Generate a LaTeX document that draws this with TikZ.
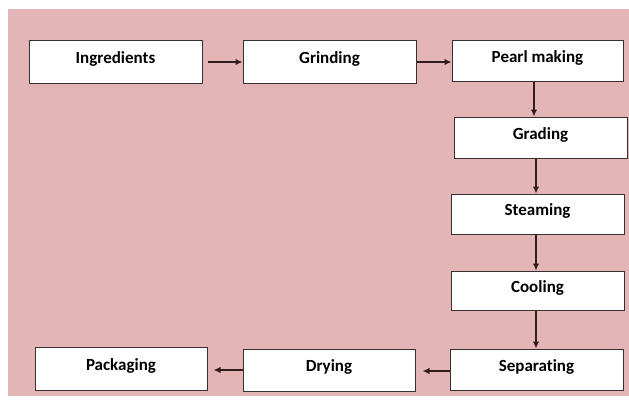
\documentclass[tikz,border=0pt]{standalone}
\usepackage{fontspec}
\setmainfont{Carlito}[Ligatures=NoCommon]
\usetikzlibrary{arrows.meta}
\definecolor{bgpink}{RGB}{228,181,183}
\definecolor{boxline}{RGB}{55,48,48}
\definecolor{arrline}{RGB}{50,28,28}
\tikzset{
  stepbox/.style={draw=boxline, line width=1pt, fill=white, inner sep=0pt,
    font=\bfseries\fontsize{17}{19}\selectfont, text=black,
    text height=11pt, text depth=8pt},
  arr/.style={draw=arrline, line width=1.7pt, -{Latex[length=7pt,width=6.5pt]}}
}
\begin{document}
\begin{tikzpicture}[x=1pt,y=-1pt]
\useasboundingbox (0,0) rectangle (629,402);
\fill[bgpink] (8,9) rectangle (629,396);
\node[stepbox, minimum width=173pt, minimum height=43pt] (ing) at (115.5,61.5) {Ingredients};
\node[stepbox, minimum width=173pt, minimum height=43pt] (grind) at (329.5,61.5) {Grinding};
\node[stepbox, minimum width=171pt, minimum height=41pt] (pearl) at (537.5,60.5) {Pearl making};
\node[stepbox, minimum width=173pt, minimum height=41pt] (grad) at (540.5,137.5) {Grading};
\node[stepbox, minimum width=173pt, minimum height=40pt] (steam) at (537.5,214) {Steaming};
\node[stepbox, minimum width=173pt, minimum height=39pt] (cool) at (537.5,290.5) {Cooling};
\node[stepbox, minimum width=173pt, minimum height=41pt] (sep) at (536.5,369.5) {Separating};
\node[stepbox, minimum width=172pt, minimum height=42pt] (dry) at (329,370) {Drying};
\node[stepbox, minimum width=172pt, minimum height=43pt] (pack) at (121,368.5) {Packaging};
\draw[arr] ([xshift=5pt,yshift=-0.5pt]ing.east) -- ([yshift=-0.5pt]grind.west);
\draw[arr] ([yshift=-0.5pt]grind.east) -- ([yshift=-0.5pt]grind.east -| pearl.west);
\draw[arr] ([xshift=-3.5pt]pearl.south) -- ([xshift=-3.5pt]pearl.south |- grad.north);
\draw[arr] ([xshift=-4.5pt]grad.south) -- ([xshift=-4.5pt]grad.south |- steam.north);
\draw[arr] ([xshift=-1.5pt]steam.south) -- ([xshift=-1.5pt]steam.south |- cool.north);
\draw[arr] ([xshift=-1.5pt]cool.south) -- ([xshift=-1.5pt]cool.south |- sep.north);
\draw[arr] ([yshift=-1.5pt]sep.west) -- ([xshift=7pt,yshift=-1.5pt]sep.west -| dry.east);
\draw[arr] (dry.west) -- ([xshift=6pt]dry.west -| pack.east);
\end{tikzpicture}
\end{document}
